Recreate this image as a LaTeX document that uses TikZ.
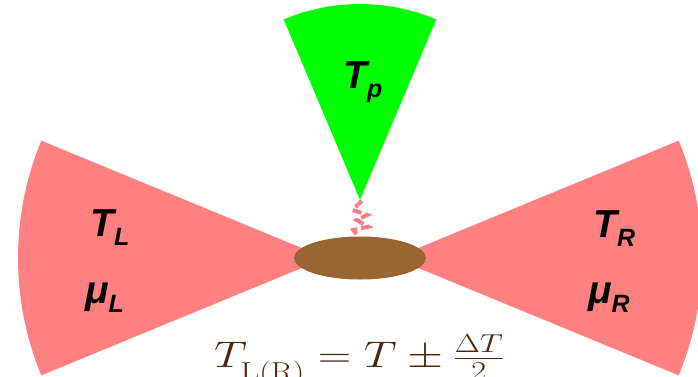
\RequirePackage{fix-cm}
\documentclass[tikz,border=0pt]{standalone}
\usepackage{fontspec}
\usetikzlibrary{shapes.geometric}
\newfontfamily\labfont{Liberation Sans}
\definecolor{pinkred}{RGB}{255,128,128}
\definecolor{brn}{RGB}{153,102,51}
\definecolor{grn}{RGB}{0,255,0}
\definecolor{txtbrn}{RGB}{77,38,13}
\newcommand{\biglab}[2]{{\fontsize{39}{41}\selectfont #1}\raisebox{-9pt}{\fontsize{25}{27}\selectfont #2}}
\begin{document}
\begin{tikzpicture}[x=1pt,y=1pt,
  lab/.style={anchor=base west, inner sep=0pt, font=\labfont\bfseries\itshape, text=black}]
\useasboundingbox (0,0) rectangle (698,376);
\clip (0,0) rectangle (698,376);
% reservoirs
\fill[pinkred] (326,118) -- ++(157.6:308) arc[start angle=157.6, end angle=202.4, radius=308] -- cycle;
\fill[pinkred] (394,118) -- ++(-22.4:308) arc[start angle=-22.4, end angle=22.4, radius=308] -- cycle;
\fill[grn] (360,176) -- ++(67.1:196) arc[start angle=67.1, end angle=112.9, radius=196] -- cycle;
% zigzag coupling
\coordinate (tip) at (361.7,175.3);
\draw[pinkred, line width=4pt, dash pattern=on 9pt off 4pt]
  (tip) -- (352.7,166) -- (367.3,161) -- (356.7,156) -- (368.3,149.3) -- (353.3,146) -- (361.7,134.3);
% dot
\node[ellipse, fill=brn, draw=none, minimum width=132pt, minimum height=43pt, inner sep=0pt] (dot) at (360,118) {};
% labels
\node[lab] (TL) at (90,140) {\biglab{T}{L}};
\node[lab] (muL) at (85,73) {\biglab{μ}{L}};
\node[lab] (TR) at (593,139) {\biglab{T}{R}};
\node[lab] (muR) at (588,73) {\biglab{μ}{R}};
\node[lab] (Tp) at (343,288) {\biglab{T}{p}};
% formula
\node[anchor=base west, inner sep=0pt, text=txtbrn, font=\fontsize{37}{40}\selectfont] (eq) at (214,9)
  {\scalebox{1.25}[1]{$T_{\raisebox{-8pt}{$\scriptstyle\mathrm{L(R)}$}} = T \pm \frac{\Delta T}{2}$}};
\end{tikzpicture}
\end{document}
